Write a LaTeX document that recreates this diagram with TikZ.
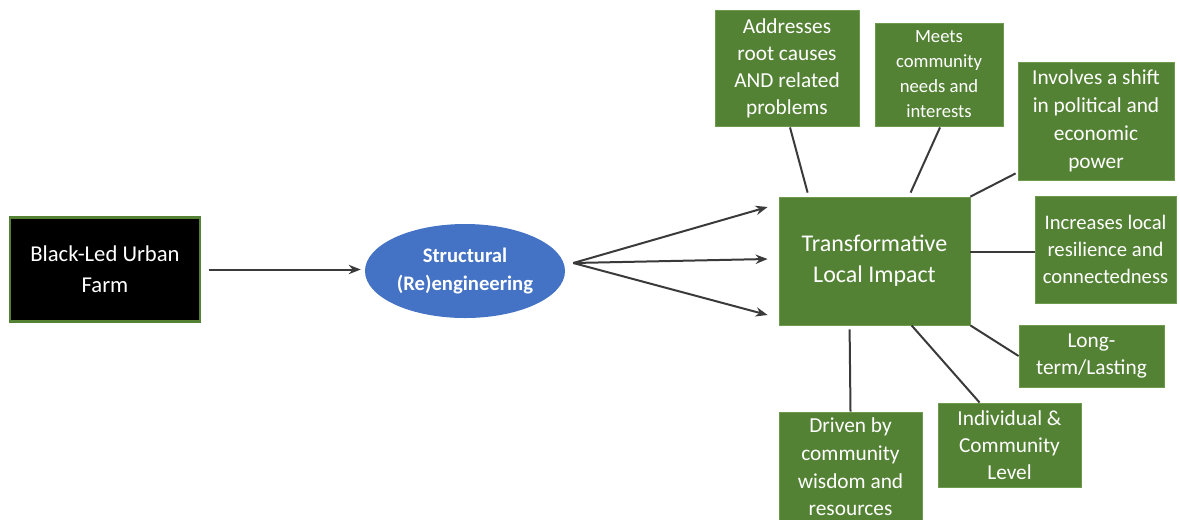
\documentclass[tikz,border=0pt]{standalone}
\usepackage{fontspec}
\setmainfont{Carlito}
\usetikzlibrary{arrows.meta,calc,shapes.geometric}
\definecolor{dgreen}{HTML}{548235}
\definecolor{lgreen}{HTML}{6E9A50}
\definecolor{eblue}{HTML}{4472C4}
\definecolor{arr}{HTML}{3A3A3A}
\begin{document}
\begin{tikzpicture}[x=0.75pt,y=-0.75pt,
  gbox/.style={draw=lgreen,line width=0.6pt,fill=dgreen,text=white,align=center,inner sep=0pt,
    font=\fontsize{16}{20.3}\selectfont},
  link/.style={draw=arr,line width=1.5pt},
  arrowlink/.style={link,-{Stealth[length=9pt,width=7pt]}}]
\useasboundingbox (0,0) rectangle (1180,519);
% left box
\node[draw=dgreen,line width=1.6pt,fill=black,text=white,align=center,inner sep=0pt,
  minimum width=142pt,minimum height=78pt,
  font=\fontsize{17}{23}\selectfont] (farm) at (105,269.5) {Black-Led Urban\\Farm};
% ellipse
\node[ellipse,fill=eblue,text=white,align=center,inner sep=0pt,
  minimum width=150pt,minimum height=70.5pt,
  font=\bfseries\fontsize{15.5}{21}\selectfont] (eng) at (465,271) {Structural\\(Re)engineering};
% main box
\node[gbox,minimum width=143.25pt,minimum height=96pt,
  font=\fontsize{18}{23.2}\selectfont] (main) at (874.5,261) {Transformative\\Local Impact};
% satellite boxes
\node[gbox,minimum width=108pt,minimum height=87pt] (addr) at (787,68)
  {Addresses\\root causes\\AND related\\problems};
\node[gbox,minimum width=96pt,minimum height=77.25pt,
  font=\fontsize{14}{18.75}\selectfont] (meets) at (939,74.5)
  {Meets\\community\\needs and\\interests};
\node[gbox,minimum width=117pt,minimum height=88.5pt,
  font=\fontsize{16}{21}\selectfont] (inv) at (1096,121)
  {Involves a shift\\in political and\\economic\\power};
\node[gbox,minimum width=105.75pt,minimum height=80.25pt,
  font=\fontsize{15.5}{20.3}\selectfont] (inc) at (1105.5,249.5)
  {Increases local\\resilience and\\connectedness};
\node[gbox,minimum width=108.75pt,minimum height=46.5pt] (long) at (1091.5,356)
  {Long-\\term/Lasting};
\node[gbox,minimum width=107.25pt,minimum height=63pt] (ind) at (1009.5,445)
  {Individual \&\\Community\\Level};
\node[gbox,minimum width=107.25pt,minimum height=82.5pt,
  font=\fontsize{16}{20.8}\selectfont] (drv) at (850.5,467)
  {Driven by\\community\\wisdom and\\resources};
% arrows
\draw[arrowlink] ($(farm.east)+(8,0)$) -- ($(farm.east -| eng.west)+(-4,0)$);
\coordinate (fan) at ($(eng.east)+(8,-8)$);
\draw[arrowlink] (fan) -- ($(main.west)+(-11,-54)$);
\draw[arrowlink] (fan) -- ($(main.west)+(-11,-2)$);
\draw[arrowlink] (fan) -- ($(main.west)+(-11,54)$);
% connectors
\draw[link] ($(addr.south)+(3,1)$) -- ($(main.north west)+(29,-4)$);
\draw[link] ($(meets.south)+(1,1)$) -- ($(main.north west)+(132,-4)$);
\draw[link] ($(inv.south west)+(-2,-7)$) -- (main.north east);
\draw[link] ($(main.east)+(0,-9)$) -- ($(inc.west)+(0,2.5)$);
\draw[link] (main.south east) -- (long.west);
\draw[link] ($(main.south west)+(133,0)$) -- ($(ind.north west)+(42,0)$);
\draw[link] ($(main.south west)+(71,4)$) -- (drv.north);
\end{tikzpicture}
\end{document}
